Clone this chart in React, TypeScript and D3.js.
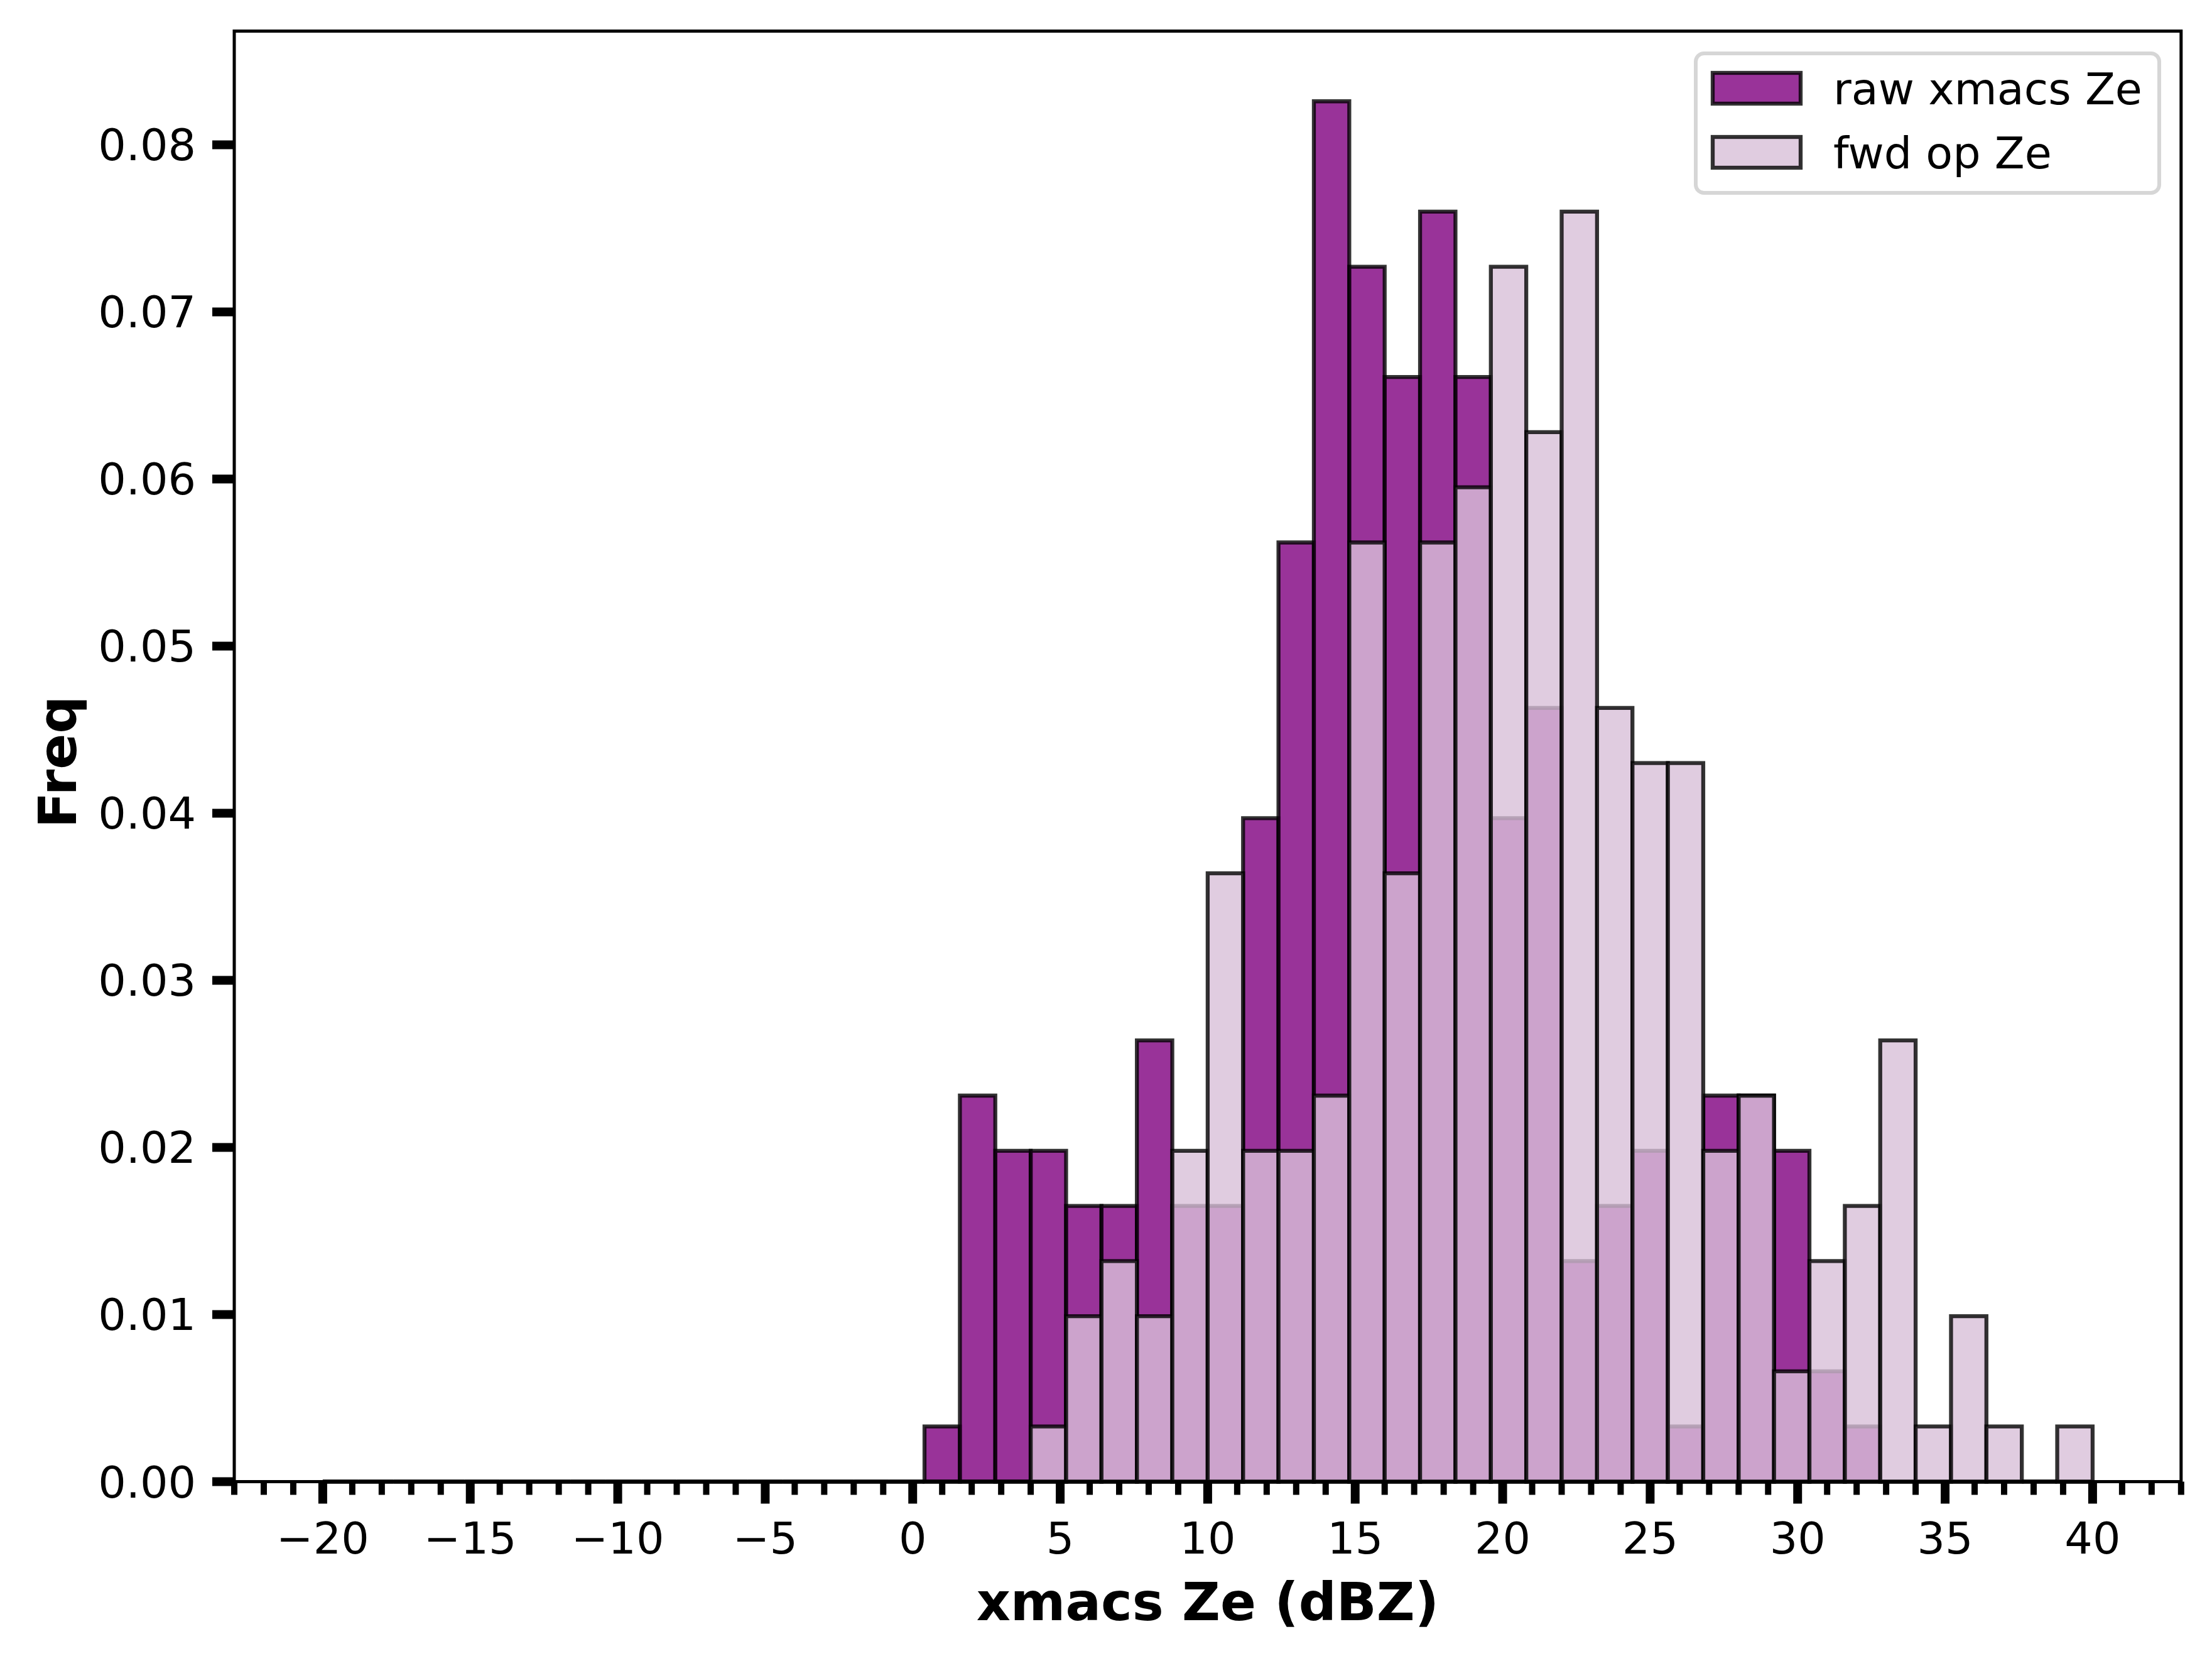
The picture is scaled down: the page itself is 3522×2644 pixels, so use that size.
import * as React from 'react';
import * as d3 from 'd3';

// histogram bins: 50 bins of 1.2 dBZ from -20 to 40
const binStart = -20;
const binWidth = 1.2;

const rawFreq = [
  0, 0, 0, 0, 0, 0, 0, 0, 0, 0,
  0, 0, 0, 0, 0, 0, 0, 0.0033, 0.0231, 0.0198,
  0.0198, 0.0165, 0.0165, 0.0264, 0.0165, 0.0165, 0.0397, 0.0562, 0.0826, 0.0727,
  0.0661, 0.0760, 0.0661, 0.0397, 0.0463, 0.0132, 0.0165, 0.0198, 0.0033, 0.0231,
  0.0231, 0.0198, 0.0066, 0.0033, 0, 0, 0, 0, 0, 0,
];

const fwdFreq = [
  0, 0, 0, 0, 0, 0, 0, 0, 0, 0,
  0, 0, 0, 0, 0, 0, 0, 0, 0, 0,
  0.0033, 0.0099, 0.0132, 0.0099, 0.0198, 0.0364, 0.0198, 0.0198, 0.0231, 0.0562,
  0.0364, 0.0562, 0.0595, 0.0727, 0.0628, 0.0760, 0.0463, 0.0430, 0.0430, 0.0198,
  0.0231, 0.0066, 0.0132, 0.0165, 0.0264, 0.0033, 0.0099, 0.0033, 0, 0.0033,
];

const xTicks = [-20, -15, -10, -5, 0, 5, 10, 15, 20, 25, 30, 35, 40];
const xMinorTicks = d3.range(-23, 44, 1);
const yTicks = [0, 0.01, 0.02, 0.03, 0.04, 0.05, 0.06, 0.07, 0.08];

const seriesNames = ['raw xmacs Ze', 'fwd op Ze'];
const seriesColors = ['purple', 'thistle'];

const W = 3522;
const H = 2644;
const FONT = '"DejaVu Sans", sans-serif';

const x = d3.scaleLinear().domain([-23, 43]).range([373, 3472.8]);
const y = d3.scaleLinear().domain([0, 0.0868]).range([2358.5, 49.5]);

const barPath = (i: number, v: number) => {
  const x0 = x(binStart + i * binWidth);
  const x1 = x(binStart + (i + 1) * binWidth);
  const y0 = y(0);
  const y1 = y(v);
  return `M${x0},${y0}V${y1}H${x1}V${y0}Z`;
};

const fmtY = d3.format('.2f');
const fmtX = d3.format('d');

const Bars: React.FC<{ data: number[]; color: string }> = ({ data, color }) => (
  <g>
    {data.map((v, i) => (
      <path
        key={i}
        d={barPath(i, v)}
        fill={color}
        fillOpacity={0.8}
        stroke="black"
        strokeOpacity={0.8}
        strokeWidth={6.3}
      />
    ))}
  </g>
);

const App: React.FC = () => {
  const [x0, x1] = x.range();
  const [yb, yt] = y.range();
  const legendX = 2700;
  const legendY = 85;

  return (
    <div style={{ position: 'absolute', left: 0, top: 0 }}>
      <svg width={W} height={H} viewBox={`0 0 ${W} ${H}`} style={{ display: 'block', background: 'white' }}>
        <rect x={0} y={0} width={W} height={H} fill="white" />

        <Bars data={rawFreq} color={seriesColors[0]} />
        <Bars data={fwdFreq} color={seriesColors[1]} />

        {/* spines */}
        <rect x={x0} y={yt} width={x1 - x0} height={yb - yt} fill="none" stroke="black" strokeWidth={5} />

        {/* x ticks */}
        {xMinorTicks.map(t => (
          <line key={'m' + t} x1={x(t)} x2={x(t)} y1={yb} y2={yb + 21} stroke="black" strokeWidth={10} />
        ))}
        {xTicks.map(t => (
          <g key={'x' + t}>
            <line x1={x(t)} x2={x(t)} y1={yb} y2={yb + 35} stroke="black" strokeWidth={14} />
            <text x={x(t)} y={2472.7} textAnchor="middle" fontFamily={FONT} fontSize={70} fill="black">
              {fmtX(t)}
            </text>
          </g>
        ))}

        {/* y ticks */}
        {yTicks.map(t => (
          <g key={'y' + t}>
            <line x1={x0} x2={x0 - 35} y1={y(t)} y2={y(t)} stroke="black" strokeWidth={14} />
            <text x={312} y={y(t) + 25} textAnchor="end" fontFamily={FONT} fontSize={70} fill="black">
              {fmtY(t)}
            </text>
          </g>
        ))}

        {/* axis labels */}
        <text x={(x0 + x1) / 2} y={2579} textAnchor="middle" fontFamily={FONT} fontSize={84} fontWeight="bold">
          xmacs Ze (dBZ)
        </text>
        <text
          transform="translate(121,1213) rotate(-90)"
          textAnchor="middle"
          fontFamily={FONT}
          fontSize={84}
          fontWeight="bold"
        >
          Freq
        </text>

        {/* legend */}
        <rect x={legendX} y={legendY} width={738} height={222} rx={13} ry={13} fill="white" fillOpacity={0.8} stroke="#cccccc" strokeOpacity={0.8} strokeWidth={6} />
        {seriesNames.map((name, i) => (
          <g key={name} transform={`translate(0,${i * 102})`}>
            <rect
              x={legendX + 27}
              y={legendY + 31}
              width={140}
              height={49}
              fill={seriesColors[i]}
              fillOpacity={0.8}
              stroke="black"
              strokeOpacity={0.8}
              strokeWidth={6.3}
            />
            <text x={legendX + 219} y={legendY + 81} fontFamily={FONT} fontSize={70} fill="black">
              {name}
            </text>
          </g>
        ))}
      </svg>
    </div>
  );
};

export default App;
